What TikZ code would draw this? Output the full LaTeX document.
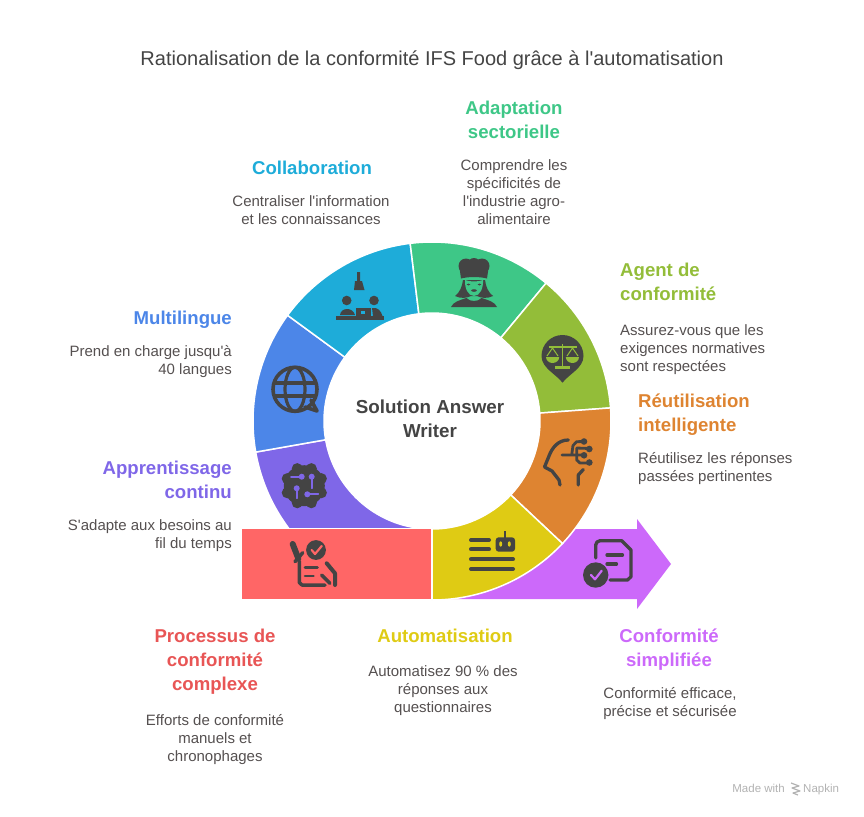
\documentclass[tikz,border=0pt]{standalone}
\usepackage{fontspec}
\setmainfont{Liberation Sans}[Ligatures=TeXOff]
\usetikzlibrary{calc}
\definecolor{ringviolet}{HTML}{7F67E8}
\definecolor{ringblue}{HTML}{4C86E8}
\definecolor{ringcyan}{HTML}{1EACD9}
\definecolor{ringmint}{HTML}{3EC787}
\definecolor{ringolive}{HTML}{93BD39}
\definecolor{ringorange}{HTML}{DE8431}
\definecolor{ringyellow}{HTML}{DFCB14}
\definecolor{ringred}{HTML}{FF6666}
\definecolor{ringpurple}{HTML}{CC69FA}
\definecolor{headred}{HTML}{E85555}
\definecolor{icondark}{HTML}{444444}
\definecolor{bodytext}{HTML}{555050}
\tikzset{
 ringseg/.style={draw=white, line width=1.5pt},
 headtxt/.style={inner sep=0, font=\fontsize{18.6}{24}\selectfont\bfseries},
 bodytxt/.style={inner sep=0, text=bodytext, font=\fontsize{15}{18}\selectfont},
 brandtxt/.style={inner sep=0, text=black!30, font=\fontsize{11.5}{12}\selectfont},
 iconfill/.style={fill=icondark, draw=none},
 iconline/.style={draw=icondark, line width=3.3pt, line cap=round, line join=round}
}
\begin{document}
\begin{tikzpicture}[x=1pt, y=-1pt]
\useasboundingbox (0,0) rectangle (864,816);
\coordinate (ctr) at (432,421);

\fill[ringpurple] (432,529) -- (637,529) -- (637,519) -- (671,564) -- (637,609) -- (637,599) -- (432,599) -- cycle;
\foreach \angA/\angB/\colr in {190/270/ringviolet, 143.8/190/ringblue, 97/143.8/ringcyan, 50.4/97/ringmint, 4.2/50.4/ringolive, -43.2/4.2/ringorange, -90/-43.2/ringyellow} {
 \filldraw[ringseg, fill=\colr] ($(ctr)+(\angA:179pt)$) arc[start angle=\angA, end angle=\angB, radius=179pt] -- ($(ctr)+(\angB:108pt)$) arc[start angle=\angB, end angle=\angA, radius=108pt] -- cycle;
}
\filldraw[ringseg, fill=ringred] (241,528.5) rectangle (431.5,599.5);

% texts
\node[inner sep=0, text=icondark, font=\fontsize{20}{24}\selectfont] (title) at (432,60) {Rationalisation de la conformité IFS Food grâce à l'automatisation};
\node[inner sep=0, text=icondark, align=center, anchor=north, font=\fontsize{18.8}{24}\selectfont\bfseries] (hub) at (430,400) {Solution Answer\\Writer};

\node[headtxt, text=ringmint, align=center, anchor=north] (adaptH) at (514,101) {Adaptation\\sectorielle};
\node[bodytxt, align=center, anchor=north] (adaptB) at (514,159) {Comprendre les\\spécificités de\\l'industrie agro-\\alimentaire};
\node[headtxt, text=ringcyan, align=center, anchor=north] (collabH) at (312,161) {Collaboration};
\node[bodytxt, align=center, anchor=north] (collabB) at (311,195) {Centraliser l'information\\et les connaissances};
\node[headtxt, text=ringblue, align=right, anchor=north east] (multiH) at (232,311) {Multilingue};
\node[bodytxt, align=right, anchor=north east] (multiB) at (232,345) {Prend en charge jusqu'à\\40 langues};
\node[headtxt, text=ringviolet, align=right, anchor=north east] (learnH) at (232,461) {Apprentissage\\continu};
\node[bodytxt, align=right, anchor=north east] (learnB) at (232,519) {S'adapte aux besoins au\\fil du temps};
\node[headtxt, text=ringolive, align=left, anchor=north west] (agentH) at (620,263) {Agent de\\conformité};
\node[bodytxt, align=left, anchor=north west] (agentB) at (620,324) {Assurez-vous que les\\exigences normatives\\sont respectées};
\node[headtxt, text=ringorange, align=left, anchor=north west] (reuseH) at (638,394) {Réutilisation\\intelligente};
\node[bodytxt, align=left, anchor=north west] (reuseB) at (638,452) {Réutilisez les réponses\\passées pertinentes};
\node[headtxt, text=headred, align=center, anchor=north] (procH) at (215,629) {Processus de\\conformité\\complexe};
\node[bodytxt, align=center, anchor=north] (procB) at (215,714) {Efforts de conformité\\manuels et\\chronophages};
\node[headtxt, text=ringyellow, align=center, anchor=north] (autoH) at (445,629) {Automatisation};
\node[bodytxt, align=center, anchor=north] (autoB) at (443,665) {Automatisez 90 \% des\\réponses aux\\questionnaires};
\node[headtxt, text=ringpurple, align=center, anchor=north] (simpleH) at (669,629) {Conformité\\simplifiée};
\node[bodytxt, align=center, anchor=north] (simpleB) at (670,687) {Conformité efficace,\\précise et sécurisée};
\node[brandtxt, anchor=base east] (brandA) at (785,792) {Made with};
\node[brandtxt, anchor=base west] (brandB) at (803,792) {Napkin};
\draw[black!30, line width=1.2pt, line join=round] (791,783) -- (799,786) -- (792,788) -- (800,791) -- (793,793) -- (798,795);

% cyan
\fill[iconfill] (357,272) rectangle (360,281) (355,281) -- (362,281) -- (364.5,290) -- (354,290) -- cycle;
\fill[iconfill] (346.7,300.5) circle (4.8pt) (374,300.5) circle (4.8pt);
\fill[iconfill] (340,315) .. controls (341,307) and (353,307) .. (355,315) -- cycle;
\fill[iconfill] (335.5,316) rectangle (384,319.5);
\fill[iconfill] (356,307.5) rectangle (371,316);
\fill[ringcyan] (361,310.5) rectangle (365,314);
\fill[iconfill] (372,308) .. controls (378,307) and (381,311) .. (382.5,316) -- (373,316) -- cycle;

% mint
\fill[iconfill] (466,266) circle (7.5pt) (474,264.5) circle (6.5pt) (482,266) circle (7.5pt);
\fill[iconfill] (459.5,268) -- (488.5,268) -- (487,278.5) .. controls (479,276.5) and (469,276.5) .. (461,278.5) -- cycle;
\fill[iconfill] (463,280) .. controls (462,287) and (460,292) .. (455,296) .. controls (461,299) and (467,298) .. (471,296) -- (477,296) .. controls (481,298) and (487,299) .. (493,296) .. controls (488,292) and (486,287) .. (485,280) -- cycle;
\fill[ringmint] (465,280) .. controls (470,282) and (478,282) .. (483,280) .. controls (483.5,288) and (480,296) .. (474,296) .. controls (468,296) and (464.5,288) .. (465,280) -- cycle;
\fill[iconfill] (451,307) .. controls (453,302) and (460,300) .. (466.5,298) .. controls (470,302) and (478,302) .. (481.5,298) .. controls (488,300) and (495,302) .. (497,307) -- cycle;
\fill[iconfill] (468.5,284.5) ellipse (1.8pt and 1pt) (479.5,284.5) ellipse (1.8pt and 1pt) (474,290.5) ellipse (2.8pt and 1.3pt);

% olive
\fill[iconfill] (562.5,382.7) .. controls (556,374) and (541.5,368) .. (541.5,356) arc[start angle=180, end angle=0, radius=21pt] .. controls (583.5,368) and (569,374) .. (562.5,382.7) -- cycle;
\draw[ringolive, line width=1.6pt] (548.5,347) -- (576.5,347) (562.5,344) -- (562.5,366);
\fill[ringolive] (555,365.5) rectangle (570,368.5);
\fill[ringolive] (546,357) arc[start angle=180, end angle=360, x radius=6.6pt, y radius=6pt] -- cycle;
\fill[ringolive] (565.8,357) arc[start angle=180, end angle=360, x radius=6.6pt, y radius=6pt] -- cycle;
\draw[ringolive, line width=1pt] (547,356) -- (552.5,348) -- (558,356) (567,356) -- (572.5,348) -- (578,356);

% blue
\draw[iconline, line width=3.6pt] (295,389.3) circle (22pt);
\draw[iconline, line width=3.2pt] (295,389.3) ellipse (10pt and 22pt);
\draw[iconline, line width=3.2pt, line cap=butt] (275,383) -- (315,383) (275,396) -- (315,396);
\draw[iconline, line width=3.6pt] (305,407) -- (317,411) -- (311,400);

% orange
\draw[iconline] (568.3,440) .. controls (558,440) and (552,448) .. (549,456) -- (544.5,467) -- (552,471) -- (559,480) -- (560,485);
\draw[iconline] (583.3,469.5) -- (578.3,475) -- (578.3,485);
\draw[iconline, line width=2.8pt] (562,455) -- (585,455) (571.7,455) -- (573,445.5) -- (576.7,441.7) -- (584,441.5);
\draw[iconline, line width=2.8pt] (576.7,448) -- (589,448.5) (576.7,448) -- (576.7,460) -- (580,463) -- (589,463);
\fill[iconfill] (584,441.5) circle (3.3pt) (589.3,449) circle (3.3pt) (584,455.3) circle (3.3pt) (589.3,462.5) circle (3.3pt);

% violet
\foreach \a in {0,45,...,315} {
 \fill[iconfill] ($(304.3,485.7)+(\a+22.5:18.5pt)$) circle (5.5pt);
}
\fill[iconfill] (304.3,485.7) circle (20.5pt);
\draw[ringviolet, line width=1.8pt, line cap=round] (291,476.7) -- (301.7,476.7) (311.7,476.7) -- (311.7,488.3) (296.7,488.3) -- (296.7,498.3) (307.3,494.3) -- (318.3,494.3);
\fill[ringviolet] (301.7,476.7) circle (3pt) (311.7,476.7) circle (3pt) (296.7,488.3) circle (3pt) (307.3,494.3) circle (3pt);

% yellow
\draw[iconline, line width=4pt] (471,540) -- (489,540) (471,549.3) -- (489,549.3) (471,559.3) -- (513,559.3) (471,569) -- (513,569);
\fill[iconfill, rounded corners=3pt] (495.7,537.3) rectangle (515,551.7);
\fill[iconfill] (503.6,530.5) rectangle (506.4,538);
\fill[ringyellow] (500.7,544) ellipse (1.5pt and 2.7pt) (509.3,544) ellipse (1.5pt and 2.7pt);

% purple
\draw[iconline] (595.7,558) -- (595.7,545) -- (597,542) -- (600,540.7) -- (621.7,540.7) -- (631,550) -- (631,576.7) -- (627.5,580) -- (610,580);
\draw[iconline] (607,555) -- (622.5,555) (607,564) -- (616.5,564);
\fill[iconfill] (595.7,575) circle (12.7pt);
\draw[ringpurple, line width=2.2pt, line cap=round, line join=round] (591,575) -- (595,579.3) -- (601.7,570.7);

% red
\draw[iconline, line width=3.5pt] (299.3,561) -- (299.3,582.5) -- (302,585) -- (325,585);
\draw[iconline, line width=2.6pt] (305,567.7) -- (317.5,567.7) (305,576) -- (313.5,576);
\draw[iconline, line width=6pt] (292.7,544) -- (298.3,558.5);
\draw[iconline, line width=3.5pt] (295,561.7) -- (302.7,552.7);
\draw[iconline, line width=4pt] (326.7,563.3) -- (335,573.3) -- (335,585);
\draw[iconline, line width=3.5pt] (321.7,575) -- (330,583.3);
\fill[iconfill] (316,550) circle (9.9pt);
\draw[ringred, line width=2.2pt, line cap=round, line join=round] (311.7,550) -- (315,554) -- (321.7,546);
\end{tikzpicture}
\end{document}
